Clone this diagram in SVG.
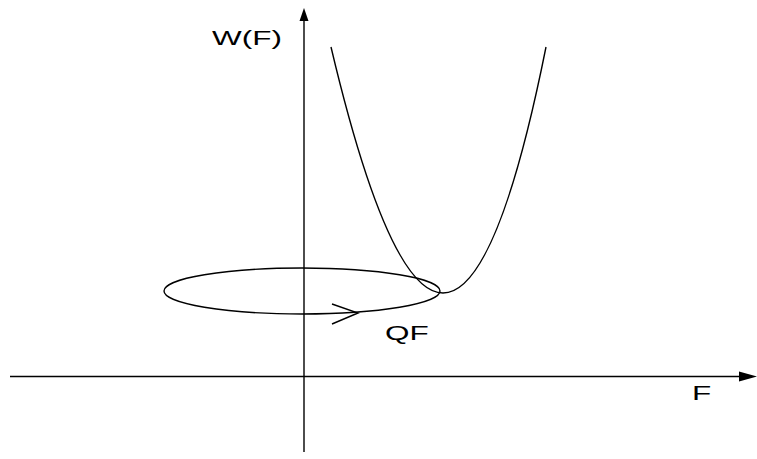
<svg xmlns="http://www.w3.org/2000/svg" width="757" height="459" viewBox="0 0 757 459">
<style>
.ln{fill:none;stroke:#000;stroke-width:1.4}
.t{font-family:"Liberation Sans",Arial,sans-serif;font-size:21px;fill:#000}
</style>
<rect width="757" height="459" fill="#fff"/>
<g id="axes">
<line class="ln" x1="304" y1="18" x2="304" y2="452"/>
<polygon points="304,8 299.5,21 308.5,21" fill="#000"/>
<line class="ln" x1="10" y1="376.5" x2="742" y2="376.5"/>
<polygon points="757,376.5 739,371.5 739,381.5" fill="#000"/>
</g>
<g id="curve">
<path class="ln" d="M331,47 Q447.5,539 546,47"/>
</g>
<g id="loop">
<ellipse class="ln" cx="302" cy="291" rx="138" ry="23"/>
<polyline class="ln" points="332,304 358,313 332,324"/>
</g>
<g id="labels">
<text class="t" transform="translate(212,45) scale(1.5,1)">W(F)</text>
<text class="t" transform="translate(385,340) scale(1.5,1)">QF</text>
<text class="t" transform="translate(692,400) scale(1.5,1)">F</text>
</g>
</svg>
